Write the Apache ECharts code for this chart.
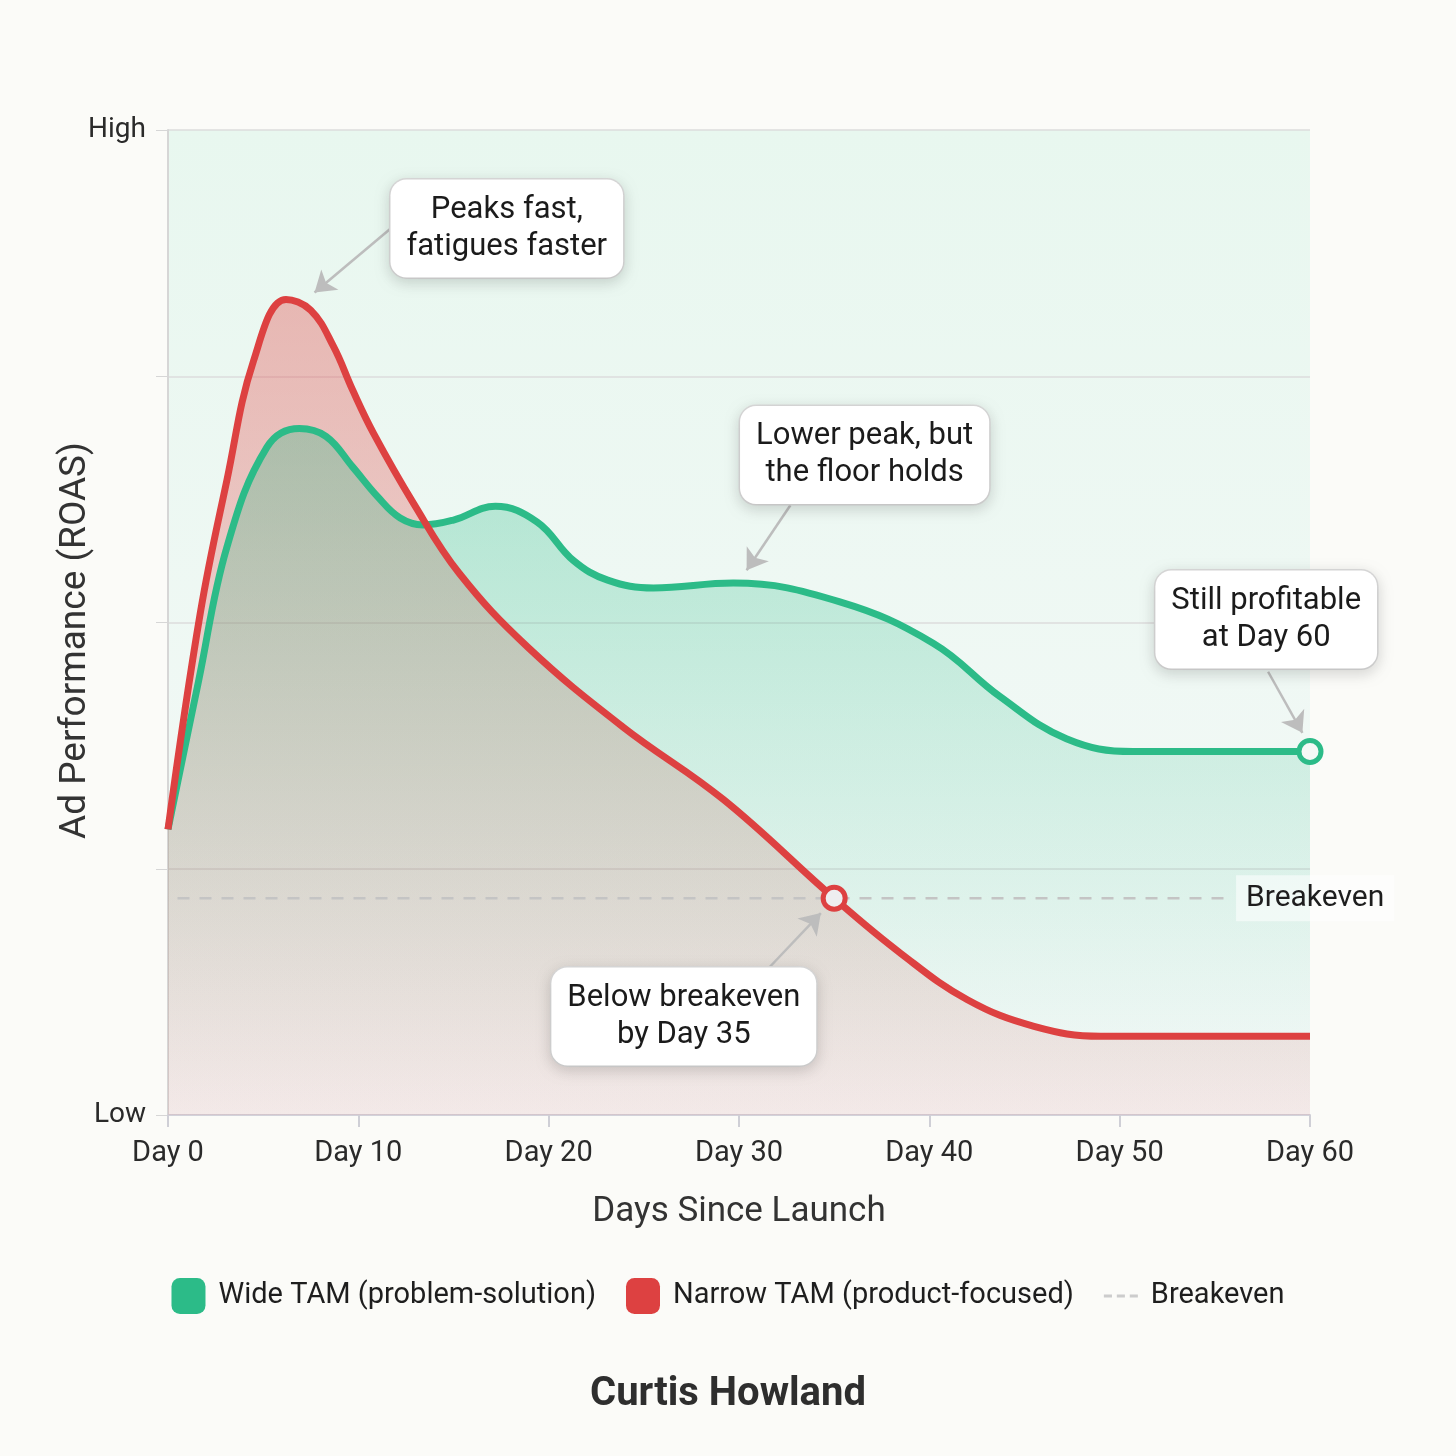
<!DOCTYPE html>
<html>
<head>
<meta charset="utf-8">
<script src="https://cdn.jsdelivr.net/npm/echarts@6/dist/echarts.min.js"></script>
<style>
  html, body { margin: 0; padding: 0; background: #fbfbf8; }
  #chart { width: 1456px; height: 1456px; }
</style>
</head>
<body>
<div id="chart"></div>
<script>
// values: [day, performance 0 (Low) .. 100 (High)]
var wideTam = [
  [0, 29], [1.6, 44], [3.1, 57.7], [5.2, 67.8], [6.9, 69.7], [8.3, 68.9],
  [9.7, 65.8], [11, 62.8], [12.2, 60.6], [13.4, 59.9], [15, 60.4], [17.2, 61.8],
  [19.4, 60.2], [21.3, 56.3], [23.1, 54.3], [25.5, 53.5], [29.7, 54],
  [35.3, 52.1], [40.2, 47.9], [43.7, 42.5], [47.2, 38.2], [50.7, 36.9],
  [53, 36.9], [60, 36.9]
];
var narrowTam = [
  [0, 29], [1.7, 51], [3.1, 64.5], [4.5, 76.6], [6.2, 82.8], [7.5, 81.7],
  [8.7, 78], [9.7, 73.6], [10.8, 69.2], [12.9, 62.1], [15.3, 55], [18.9, 47.5],
  [23.9, 39.4], [29.2, 32], [35, 22], [38.5, 16.4], [42, 11.7], [45.5, 9],
  [49, 8], [52, 8], [60, 8]
];
var breakeven = 22;
var breakevenSpan = [0.5, 55.8];
var wideEnd = [60, 36.9];
var narrowCross = [35, 22];

var dayTicks = [0, 10, 20, 30, 40, 50, 60];

// annotation boxes: text, box centre, arrow start, arrow end
var notes = [
  { text: 'Peaks fast,\nfatigues faster', at: [17.8, 90], from: [11.7, 90], to: [7.7, 83.5] },
  { text: 'Lower peak, but\nthe floor holds', at: [36.6, 67], from: [32.7, 61.9], to: [30.4, 55.3] },
  { text: 'Still profitable\nat Day 60', at: [57.7, 50.3], from: [57.8, 45], to: [59.6, 38.8] },
  { text: 'Below breakeven\nby Day 35', at: [27.1, 10], from: [31.6, 15], to: [34.3, 20.5] }
];

var GREEN = '#2cbb88';
var RED = '#dd4141';
var FONT = 'Roboto';
var NARROW = 'Narrow TAM (product-focused)';
var SMOOTH = 0.4;

var chart = echarts.init(document.getElementById('chart'));

var noteLabel = {
  show: true,
  position: 'inside',
  fontFamily: FONT,
  fontSize: 31,
  lineHeight: 37,
  color: '#1b1b1b',
  align: 'center',
  backgroundColor: '#ffffff',
  borderColor: '#dcdcdc',
  borderWidth: 1.5,
  borderRadius: 16,
  padding: [12, 16],
  shadowBlur: 14,
  shadowOffsetY: 4,
  shadowColor: 'rgba(0,0,0,0.14)'
};

var option = {
  backgroundColor: '#fbfbf8',
  animation: false,
  textStyle: { fontFamily: FONT },
  title: {
    text: 'Curtis Howland',
    left: 'center',
    top: 1370,
    textStyle: { fontFamily: FONT, fontSize: 40, fontWeight: 'bold', color: '#2e2e2e' }
  },
  legend: {
    left: 'center',
    top: 1273,
    itemWidth: 34,
    itemHeight: 36,
    itemGap: 30,
    textStyle: { fontFamily: FONT, fontSize: 29, color: '#1e1e1e', padding: [0, 0, 0, 8] },
    data: [
      { name: 'Wide TAM (problem-solution)', icon: 'roundRect', itemStyle: { color: GREEN } },
      { name: NARROW, icon: 'roundRect', itemStyle: { color: RED } },
      { name: 'Breakeven', icon: 'path://M0,0h5v2h-5z M8,0h5v2h-5z M16,0h5v2h-5z', itemStyle: { color: '#cccccc' } }
    ]
  },
  grid: {
    left: 168,
    right: 146,
    top: 130,
    bottom: 341,
    show: true,
    borderWidth: 0,
    backgroundColor: new echarts.graphic.LinearGradient(0, 0, 0, 1, [
      { offset: 0, color: '#e8f7ef' },
      { offset: 1, color: '#f5f9f8' }
    ])
  },
  xAxis: {
    type: 'value',
    min: 0,
    max: 60,
    interval: 10,
    name: 'Days Since Launch',
    nameLocation: 'middle',
    nameGap: 80,
    nameMoveOverlap: false,
    nameTextStyle: { fontFamily: FONT, fontSize: 35, color: '#333' },
    axisLine: { show: true, lineStyle: { color: '#d2d2da', width: 2 } },
    axisTick: { show: true, length: 12, lineStyle: { color: '#cfcfd6', width: 2 } },
    axisLabel: {
      margin: 24,
      fontFamily: FONT,
      fontSize: 29,
      color: '#2a2a2a',
      formatter: function (v) { return dayTicks.indexOf(v) >= 0 ? 'Day ' + v : ''; }
    },
    splitLine: { show: false }
  },
  yAxis: {
    type: 'value',
    min: 0,
    max: 100,
    interval: 25,
    name: 'Ad Performance (ROAS)',
    nameLocation: 'middle',
    nameGap: 74,
    nameMoveOverlap: false,
    nameTextStyle: { fontFamily: FONT, fontSize: 37, color: '#333', padding: [0, 36, 0, 0] },
    axisLine: { show: true, lineStyle: { color: '#d6d6d6', width: 2 } },
    axisTick: { show: true, length: 12, lineStyle: { color: '#d6d6d6' } },
    axisLabel: {
      margin: 22,
      fontFamily: FONT,
      fontSize: 28,
      color: '#2a2a2a',
      formatter: function (v) { return v === 100 ? 'High' : (v === 0 ? 'Low' : ''); }
    },
    splitLine: { show: true, lineStyle: { color: '#dcdcdc', width: 1.5 } }
  },
  series: [
    {
      // red fill sits under the green fill
      name: NARROW,
      type: 'line',
      smooth: SMOOTH,
      symbol: 'none',
      z: 1,
      data: narrowTam,
      itemStyle: { color: RED },
      lineStyle: { width: 0 },
      areaStyle: {
        color: new echarts.graphic.LinearGradient(0, 0, 0, 1, [
          { offset: 0, color: 'rgba(226,72,72,0.52)' },
          { offset: 1, color: 'rgba(226,72,72,0.13)' }
        ])
      }
    },
    {
      name: 'Wide TAM (problem-solution)',
      type: 'line',
      smooth: SMOOTH,
      symbol: 'none',
      z: 2,
      data: wideTam,
      itemStyle: { color: GREEN },
      lineStyle: { color: GREEN, width: 7 },
      areaStyle: {
        color: new echarts.graphic.LinearGradient(0, 0, 0, 1, [
          { offset: 0, color: 'rgba(44,187,136,0.46)' },
          { offset: 1, color: 'rgba(44,187,136,0.0)' }
        ])
      },
      markPoint: {
        symbol: 'circle',
        symbolSize: 22,
        itemStyle: { color: '#f4f9f6', borderColor: GREEN, borderWidth: 5 },
        label: { show: false },
        data: [{ coord: wideEnd }]
      }
    },
    {
      name: NARROW,
      type: 'line',
      smooth: SMOOTH,
      symbol: 'none',
      z: 3,
      data: narrowTam,
      itemStyle: { color: RED },
      lineStyle: { color: RED, width: 7 },
      markPoint: {
        symbol: 'circle',
        symbolSize: 22,
        itemStyle: { color: '#eeeef0', borderColor: RED, borderWidth: 5 },
        label: { show: false },
        data: [{ coord: narrowCross }]
      }
    },
    {
      name: 'Breakeven',
      type: 'line',
      symbol: 'none',
      z: 2,
      data: breakevenSpan.map(function (d) { return [d, breakeven]; }),
      itemStyle: { color: '#cccccc' },
      lineStyle: { color: '#c4c4c4', width: 2.5, type: [12, 10] },
      endLabel: {
        show: true,
        formatter: 'Breakeven',
        distance: 6,
        fontFamily: FONT,
        fontSize: 30,
        color: '#1e1e1e',
        backgroundColor: 'rgba(255,255,255,0.55)',
        padding: [8, 10]
      },
      markLine: {
        silent: true,
        symbol: ['none', 'arrow'],
        symbolSize: 20,
        label: { show: false },
        lineStyle: { color: '#bdbdbd', width: 2.5, type: 'solid' },
        data: notes.map(function (n) { return [{ coord: n.from }, { coord: n.to }]; })
      },
      markPoint: {
        symbol: 'circle',
        symbolSize: 1,
        itemStyle: { color: 'rgba(0,0,0,0)' },
        data: notes.map(function (n) {
          return { coord: n.at, label: Object.assign({ formatter: n.text }, noteLabel) };
        })
      }
    }
  ]
};

chart.setOption(option);
</script>
</body>
</html>
